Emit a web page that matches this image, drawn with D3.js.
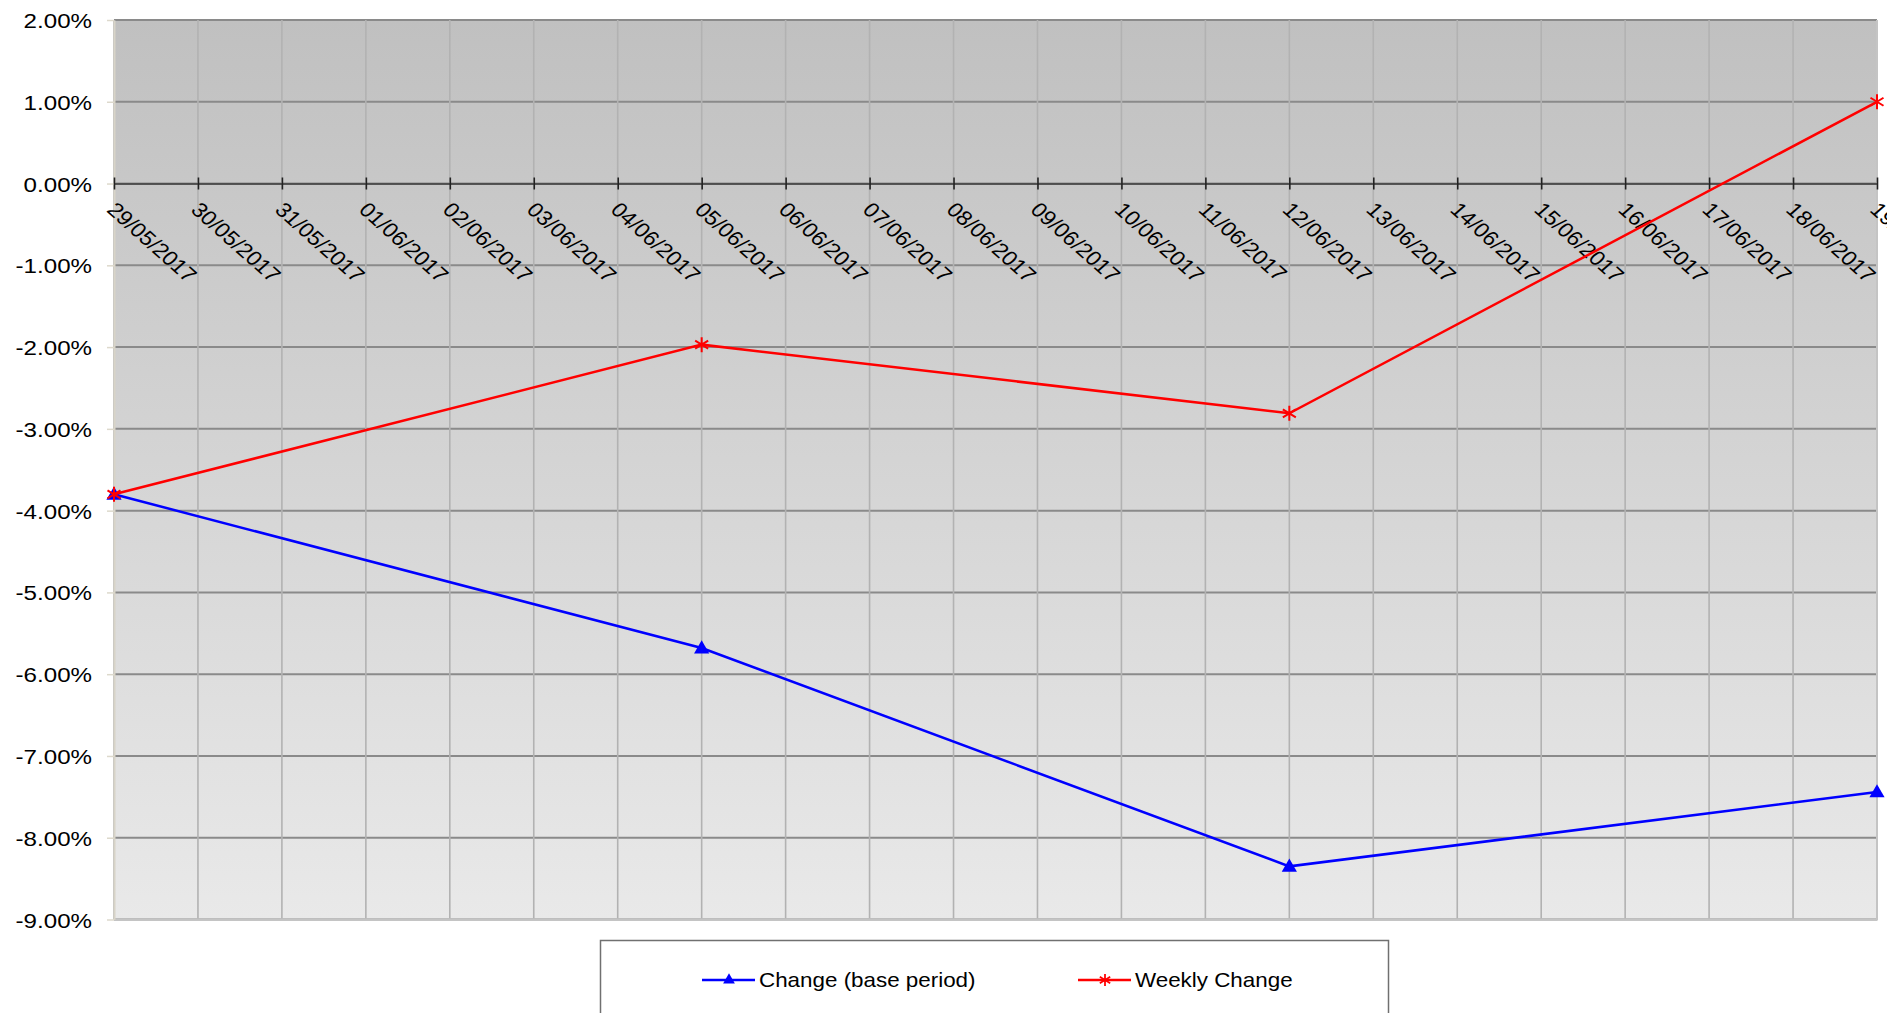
<!DOCTYPE html>
<html>
<head>
<meta charset="utf-8">
<script src="https://cdn.jsdelivr.net/npm/d3@7"></script>
<style>
  body { margin: 0; background: #fff; }
  svg { display: block; font-family: "Liberation Sans", Arial, sans-serif; }
</style>
</head>
<body>
<svg id="chart" width="1900" height="1013"></svg>
<script>
var dateLabels = ["29/05/2017", "30/05/2017", "31/05/2017", "01/06/2017", "02/06/2017", "03/06/2017",
  "04/06/2017", "05/06/2017", "06/06/2017", "07/06/2017", "08/06/2017", "09/06/2017", "10/06/2017",
  "11/06/2017", "12/06/2017", "13/06/2017", "14/06/2017", "15/06/2017", "16/06/2017", "17/06/2017",
  "18/06/2017", "19/06/2017"];
var weeks = ["29/05/2017", "05/06/2017", "12/06/2017", "19/06/2017"];
var baseChange = [-3.80, -5.68, -8.35, -7.44];
var weeklyChange = [-3.80, -1.97, -2.81, 1.00];
var yTicks = [2, 1, 0, -1, -2, -3, -4, -5, -6, -7, -8, -9];
var seriesNames = ["Change (base period)", "Weekly Change"];

// note: "top" is taken by window.top, so plot edges get their own names
var plotLeft = 114, plotRight = 1877, plotTop = 20, plotBottom = 919.5;
var stretch = 1.15;   // text in the original is a little wider than normal

var svg = d3.select("#chart");

var x = d3.scalePoint().domain(dateLabels).range([plotLeft, plotRight]);
var y = d3.scaleLinear().domain([-9, 2]).range([plotBottom, plotTop]);

// background gradient
var defs = svg.append("defs");
var grad = defs.append("linearGradient")
  .attr("id", "bg").attr("x1", 0).attr("y1", 0).attr("x2", 0).attr("y2", 1);
grad.append("stop").attr("offset", "0%").attr("stop-color", "#c0c0c0");
grad.append("stop").attr("offset", "100%").attr("stop-color", "#e9e9e9");

defs.append("clipPath").attr("id", "xclip")
  .append("rect").attr("x", 0).attr("y", -20).attr("width", 1887).attr("height", 220);

svg.append("rect")
  .attr("x", plotLeft).attr("y", plotTop)
  .attr("width", plotRight - plotLeft).attr("height", plotBottom - plotTop)
  .attr("fill", "url(#bg)");

// horizontal grid
svg.append("g").selectAll("line").data(yTicks).enter().append("line")
  .attr("x1", plotLeft).attr("x2", plotRight)
  .attr("y1", function(d) { return y(d); })
  .attr("y2", function(d) { return y(d); })
  .attr("stroke", "#8a8a8a")
  .attr("stroke-width", 2);

// vertical grid
svg.append("g").selectAll("line").data(dateLabels).enter().append("line")
  .attr("x1", function(d) { return x(d); })
  .attr("x2", function(d) { return x(d); })
  .attr("y1", plotTop).attr("y2", plotBottom)
  .attr("stroke", "#b2b2b2")
  .attr("stroke-width", 1.6);

// plot border (right + bottom)
svg.append("path")
  .attr("d", "M" + plotRight + "," + plotTop + "V" + plotBottom + "H" + plotLeft)
  .attr("fill", "none")
  .attr("stroke", "#c4c4c4")
  .attr("stroke-width", 2);

// y axis
var yAxis = svg.append("g")
  .attr("transform", "translate(" + plotLeft + ",0)")
  .call(d3.axisLeft(y).tickValues(yTicks).tickSizeInner(7).tickSizeOuter(0)
    .tickFormat(function(d) { return d.toFixed(2) + "%"; }));
yAxis.select(".domain").attr("stroke", "#d8d4c8").attr("stroke-width", 2);
yAxis.selectAll(".tick line").attr("stroke", "#ddd9cc").attr("stroke-width", 1.5);
yAxis.selectAll(".tick text")
  .attr("fill", "#000")
  .attr("font-size", 21)
  .attr("x", -22 / stretch)
  .attr("dy", "0.36em")
  .attr("transform", "scale(" + stretch + ",1)");

// x axis on zero line
var xAxis = svg.append("g")
  .attr("transform", "translate(0," + y(0) + ")")
  .attr("clip-path", "url(#xclip)")
  .call(d3.axisBottom(x).tickSizeOuter(0).tickSizeInner(6));
xAxis.select(".domain").attr("stroke", "#3a3a3a").attr("stroke-width", 1.6);
xAxis.selectAll(".tick line").attr("y1", -6).attr("y2", 6).attr("stroke", "#222").attr("stroke-width", 1.6);
xAxis.selectAll(".tick text")
  .attr("fill", "#000")
  .attr("font-size", 20.5)
  .attr("x", 0).attr("y", 0)
  .attr("dy", "0.72em")
  .attr("text-anchor", "start")
  .attr("transform", "translate(3,17) scale(1.12,1) rotate(45)");

// series
var line = d3.line()
  .x(function(d) { return x(d[0]); })
  .y(function(d) { return y(d[1]); });

var baseData = weeks.map(function(w, i) { return [w, baseChange[i]]; });
var weeklyData = weeks.map(function(w, i) { return [w, weeklyChange[i]]; });

var starPath = "M0,-7.5L0,7.5M-6.5,-4L6.5,4M-6.5,4L6.5,-4";

svg.append("path")
  .attr("d", line(baseData))
  .attr("fill", "none").attr("stroke", "#0000ff").attr("stroke-width", 2.5);

svg.append("g").selectAll("path").data(baseData).enter().append("path")
  .attr("transform", function(d) { return "translate(" + x(d[0]) + "," + (y(d[1]) + 1) + ")"; })
  .attr("d", d3.symbol().type(d3.symbolTriangle).size(100))
  .attr("fill", "#0000ff");

svg.append("path")
  .attr("d", line(weeklyData))
  .attr("fill", "none").attr("stroke", "#ff0000").attr("stroke-width", 2.5);

svg.append("g").selectAll("path").data(weeklyData).enter().append("path")
  .attr("transform", function(d) { return "translate(" + x(d[0]) + "," + y(d[1]) + ")"; })
  .attr("d", starPath)
  .attr("fill", "none").attr("stroke", "#ff0000").attr("stroke-width", 2);

// legend
svg.append("rect")
  .attr("x", 600.5).attr("y", 940.5)
  .attr("width", 788).attr("height", 100)
  .attr("fill", "#fff")
  .attr("stroke", "#707070").attr("stroke-width", 1.5);

var legendItems = [
  {name: seriesNames[0], color: "#0000ff", x: 702, marker: "tri"},
  {name: seriesNames[1], color: "#ff0000", x: 1078, marker: "star"}
];

var lg = svg.append("g").selectAll("g").data(legendItems).enter().append("g")
  .attr("transform", function(d) { return "translate(" + d.x + ",980)"; });

lg.append("line")
  .attr("x1", 0).attr("x2", 53)
  .attr("stroke", function(d) { return d.color; })
  .attr("stroke-width", 2.5);

lg.filter(function(d) { return d.marker == "tri"; }).append("path")
  .attr("transform", "translate(27,0)")
  .attr("d", d3.symbol().type(d3.symbolTriangle).size(60))
  .attr("fill", "#0000ff");

lg.filter(function(d) { return d.marker == "star"; }).append("path")
  .attr("transform", "translate(27,0) scale(0.8)")
  .attr("d", starPath)
  .attr("fill", "none").attr("stroke", "#ff0000").attr("stroke-width", 2.2);

lg.append("text")
  .attr("transform", "translate(57,0) scale(1.12,1)")
  .attr("dy", "0.35em")
  .attr("font-size", 20)
  .attr("fill", "#000")
  .text(function(d) { return d.name; });
</script>
</body>
</html>
